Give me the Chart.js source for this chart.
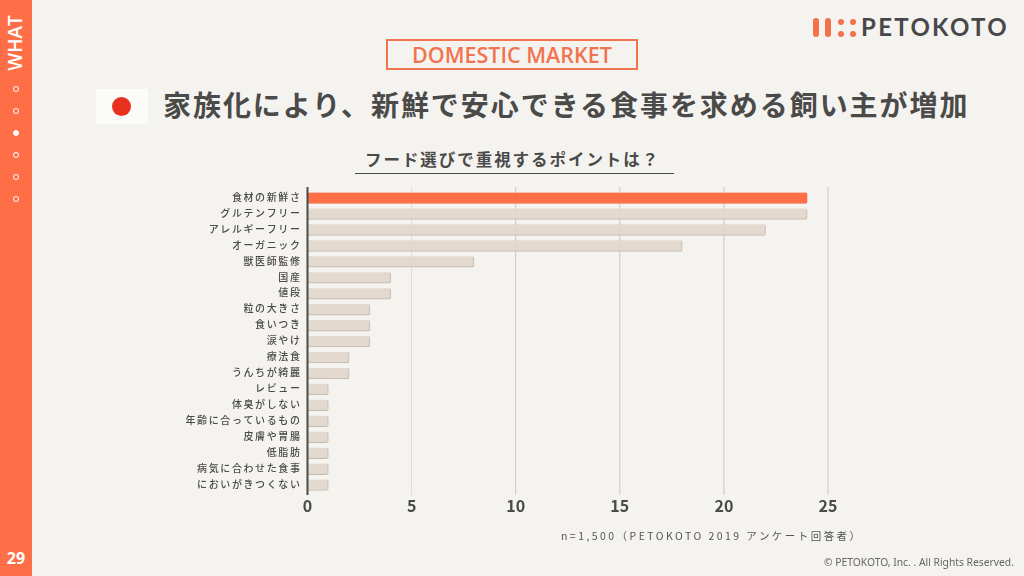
<!DOCTYPE html>
<html lang="ja">
<head>
<meta charset="utf-8">
<title>PETOKOTO</title>
<script src="https://cdn.jsdelivr.net/npm/chart.js@4"></script>
<style>
html, body { margin: 0; padding: 0; }
body { width: 1024px; height: 576px; position: relative; overflow: hidden; background: #f5f3f0; color: #4a4a48; font-family: 'Noto Sans CJK JP', 'Noto Sans', sans-serif; }
#chart { position: absolute; left: 0; top: 0; }
.abs { position: absolute; white-space: nowrap; }
.side { left: 0; top: 0; width: 32px; height: 576px; background: #ff6f47; }
.what { left: 15px; top: 43px; color: #fff; font: 600 19px 'Open Sans', sans-serif; transform: translate(-50%, -50%) rotate(-90deg); }
.page { left: 16px; top: 558px; color: #fff; font: 700 16px 'Open Sans', sans-serif; transform: translate(-50%, -50%); }
.dot { left: 13px; width: 4px; height: 4px; border: 1.3px solid #fff; border-radius: 50%; }
.dot.on { background: #fff; }
.market { left: 386px; top: 39px; width: 248px; height: 27px; border: 2px solid #f2734f; color: #f2734f; font: 600 21.5px/27px 'Open Sans', sans-serif; text-align: center; }
.flag { left: 96px; top: 89px; width: 52px; height: 35px; background: #fbfbfa; }
.flag i { position: absolute; left: 16px; top: 8px; width: 19px; height: 19px; border-radius: 50%; background: #e8301f; }
.title { left: 163px; top: 84px; font-size: 28px; line-height: 40px; font-weight: 700; letter-spacing: 1.95px; }
.sub { left: 365px; top: 146px; font-size: 16.5px; line-height: 26px; font-weight: 700; letter-spacing: 1.95px; }
.rule { left: 355px; top: 173px; width: 319px; height: 1px; background: #4a4a48; }
.note { left: 561px; top: 527px; font-size: 10.5px; line-height: 18px; letter-spacing: 2.45px; color: #555; }
.copy { left: 824px; top: 554px; font: 10.3px/16px 'Noto Sans', sans-serif; color: #666; }
.logo i { position: absolute; background: #f4714a; }
.logotext { left: 861px; top: 11px; font: 700 24px/32px Lato, sans-serif; letter-spacing: 2.3px; color: #48484a; }
</style>
</head>
<body>
<div class="abs side"></div>
<div class="abs what">WHAT</div>
<div class="abs dot" style="top:86px"></div>
<div class="abs dot" style="top:108px"></div>
<div class="abs dot on" style="top:130px"></div>
<div class="abs dot" style="top:152px"></div>
<div class="abs dot" style="top:174px"></div>
<div class="abs dot" style="top:196px"></div>
<div class="abs page">29</div>

<div class="abs logo" style="left:0;top:0">
  <i style="left:813px;top:18px;width:6px;height:19px;border-radius:3px"></i>
  <i style="left:825px;top:18px;width:6px;height:19px;border-radius:3px"></i>
  <i style="left:838px;top:19px;width:6px;height:6px;border-radius:50%"></i>
  <i style="left:850px;top:19px;width:6px;height:6px;border-radius:50%"></i>
  <i style="left:838px;top:31px;width:6px;height:6px;border-radius:50%"></i>
  <i style="left:850px;top:31px;width:6px;height:6px;border-radius:50%"></i>
</div>
<div class="abs logotext">PETOKOTO</div>

<div class="abs market">DOMESTIC MARKET</div>
<div class="abs flag"><i></i></div>
<div class="abs title">家族化により、新鮮で安心できる食事を求める飼い主が増加</div>
<div class="abs sub">フード選びで重視するポイントは？</div>
<div class="abs rule"></div>
<canvas id="chart" width="1024" height="576"></canvas>
<div class="abs note">n=1,500（PETOKOTO 2019 アンケート回答者）</div>
<div class="abs copy">© PETOKOTO, Inc. . All Rights Reserved.</div>

<script>
const categories = ['食材の新鮮さ', 'グルテンフリー', 'アレルギーフリー', 'オーガニック', '獣医師監修', '国産', '値段', '粒の大きさ', '食いつき', '涙やけ', '療法食', 'うんちが綺麗', 'レビュー', '体臭がしない', '年齢に合っているもの', '皮膚や胃腸', '低脂肪', '病気に合わせた食事', 'においがきつくない']
const values = [24, 24, 22, 18, 8, 4, 4, 3, 3, 3, 2, 2, 1, 1, 1, 1, 1, 1, 1]
const xTicks = [0, 5, 10, 15, 20, 25]
const barColors = values.map((v, i) => i == 0 ? '#ff6f47' : 'rgba(227,215,203,0.95)')
const edgeColors = values.map((v, i) => i == 0 ? '#f0683f' : '#c4bab0')

// grid lines run a little past the plot area, so they are drawn here
const gridLines = {
    id: 'gridLines',
    beforeDraw(chart) {
        chart.ctx.letterSpacing = '1.6px'
    },
    beforeDatasetsDraw(chart) {
        let ctx = chart.ctx
        let x = chart.scales.x
        ctx.save()
        for (let i = 1; i < xTicks.length; i++) {
            let px = x.getPixelForValue(xTicks[i])
            ctx.strokeStyle = i == 1 ? '#dedbd6' : '#cbc8c2'
            ctx.lineWidth = 1
            ctx.beginPath()
            ctx.moveTo(px, 187)
            ctx.lineTo(px, 495)
            ctx.stroke()
        }
        ctx.restore()
    },
    afterDatasetsDraw(chart) {
        let ctx = chart.ctx
        let px = chart.scales.x.getPixelForValue(0)
        ctx.save()
        ctx.strokeStyle = '#4a4a48'
        ctx.lineWidth = 2
        ctx.beginPath()
        ctx.moveTo(px, 187)
        ctx.lineTo(px, 495)
        ctx.stroke()
        ctx.restore()
        // x tick labels come after this (z: 1) and have no spacing
        ctx.letterSpacing = '0px'
    }
}

new Chart(document.getElementById('chart'), {
    type: 'bar',
    data: {
        labels: categories,
        datasets: [{
            data: values,
            backgroundColor: barColors,
            borderColor: edgeColors,
            borderWidth: { right: 1, bottom: 1 },
            borderRadius: { topRight: 2, bottomRight: 2 },
            borderSkipped: 'left',
            barThickness: 11
        }]
    },
    options: {
        indexAxis: 'y',
        responsive: false,
        animation: false,
        layout: { padding: { top: 190, bottom: 53, left: 0, right: 196 } },
        plugins: { legend: { display: false }, tooltip: { enabled: false } },
        scales: {
            x: {
                min: 0,
                max: 25,
                afterFit(scale) { scale.height = 30 },
                afterBuildTicks(scale) { scale.ticks = xTicks.map(v => ({ value: v })) },
                grid: { display: false, drawTicks: false, tickLength: 0 },
                border: { display: false },
                ticks: { z: 1, color: '#4a4a48', padding: 3, maxRotation: 0, font: { family: "'Noto Sans CJK JP'", size: 16, weight: 'bold' } }
            },
            y: {
                afterFit(scale) { scale.width = 307.5 },
                grid: { display: false, drawTicks: false, tickLength: 0 },
                border: { display: false },
                ticks: { color: '#4a4a48', padding: 6, labelOffset: -1, autoSkip: false, font: { family: "'Noto Sans CJK JP'", size: 10, weight: 500 } }
            }
        }
    },
    plugins: [gridLines]
})
</script>
</body>
</html>
